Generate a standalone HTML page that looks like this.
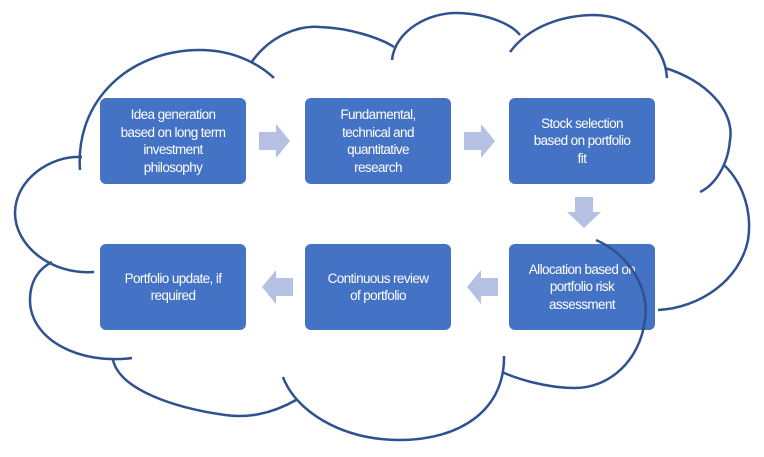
<!DOCTYPE html>
<html><head><style>
body{margin:0;width:764px;height:457px;background:#fff;position:relative;overflow:hidden;font-family:"Liberation Sans",sans-serif}
.b{position:absolute;width:146px;height:86px;background:#4472C4;border-radius:6px;color:#fff;font-size:13.5px;line-height:17.5px;display:flex;align-items:center;justify-content:center;text-align:center;letter-spacing:-0.6px}
svg{position:absolute;left:0;top:0}
</style></head><body>
<div class="b" style="left:100px;top:98px">Idea generation<br>based on long term<br>investment<br>philosophy</div>
<div class="b" style="left:305px;top:98px">Fundamental,<br>technical and<br>quantitative<br>research</div>
<div class="b" style="left:509px;top:98px">Stock selection<br>based on portfolio<br>fit</div>
<div class="b" style="left:100px;top:244px">Portfolio update, if<br>required</div>
<div class="b" style="left:305px;top:244px">Continuous review<br>of portfolio</div>
<div class="b" style="left:509px;top:244px">Allocation based on<br>portfolio risk<br>assessment</div>
<svg width="764" height="457">
<g fill="#B4C1E3">
<polygon points="259,132 276,132 276,124 290,141 276,158 276,150 259,150"/>
<polygon points="464,132 481,132 481,124 495,141 481,158 481,150 464,150"/>
<polygon points="575,197 593,197 593,212 601,212 584,228 567,212 575,212"/>
<polygon points="293,278 276,278 276,270 262,287 276,304 276,296 293,296"/>
<polygon points="498,278 481,278 481,270 467,287 481,304 481,296 498,296"/>
</g>
<g fill="none" stroke="#2F528F" stroke-width="2.5">
<path d="M80,170 C75,100 130,50 200,50 C235,50 260,65 274,78"/>
<path d="M251,63 C270,35 300,25 320,27 C350,28 380,38 394,47"/>
<path d="M392,60 C395,30 430,12 458,13 C490,14 512,25 520,35"/>
<path d="M510,52 C530,25 565,15 595,15 C635,16 665,45 667,78"/>
<path d="M665,68 C705,80 735,110 730,140 C728,165 715,185 700,192"/>
<path d="M724,165 C745,185 752,215 748,240 C740,280 700,308 658,310"/>
<path d="M596,240 C630,255 650,290 645,320 C640,360 610,388 575,388 C545,388 515,378 502,372"/>
<path d="M504,356 C505,410 460,440 400,440 C340,440 295,410 283,377"/>
<path d="M296,400 C270,415 245,418 225,415 C175,408 120,390 113,360"/>
<path d="M132,358 C80,365 30,340 30,300 C30,280 40,268 52,262"/>
<path d="M94,272 C50,275 15,245 15,213 C15,180 50,155 82,157"/>
</g>
</svg>
</body></html>
